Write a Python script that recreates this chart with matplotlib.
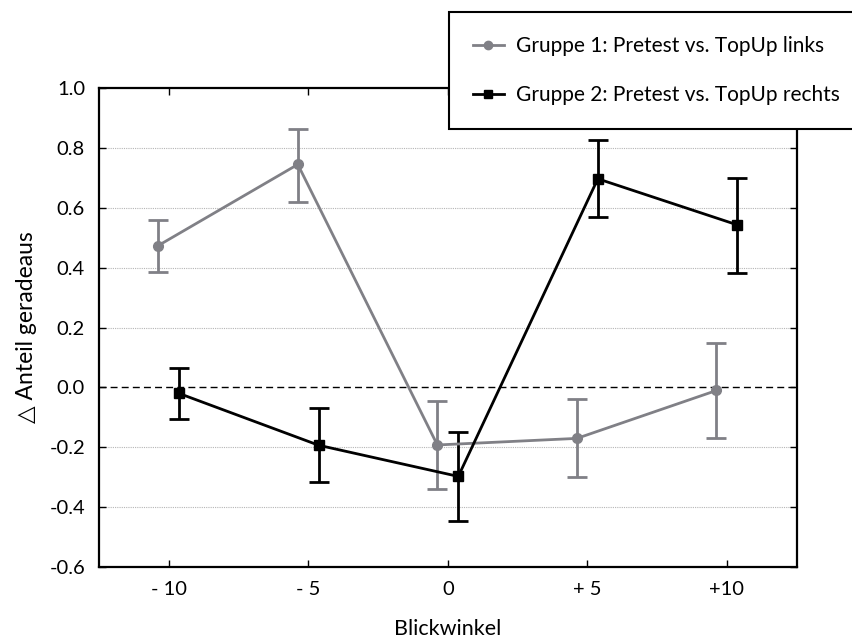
import numpy as np
import matplotlib
matplotlib.use("Agg")
import matplotlib.pyplot as plt
from matplotlib.lines import Line2D

plt.rcParams['font.family'] = ['Lato', 'DejaVu Sans']

# Viewing angle categories
categories = ["- 10", "- 5", "0", "+ 5", "+10"]

# Group 1: Pretest vs. TopUp links
g1_mean = [0.474, 0.745, -0.192, -0.170, -0.010]
g1_upper = [0.560, 0.865, -0.045, -0.040, 0.148]
g1_lower = [0.385, 0.620, -0.340, -0.300, -0.168]

# Group 2: Pretest vs. TopUp rechts
g2_mean = [-0.020, -0.193, -0.297, 0.697, 0.543]
g2_upper = [0.065, -0.070, -0.150, 0.825, 0.700]
g2_lower = [-0.105, -0.315, -0.445, 0.570, 0.383]

label1 = "Gruppe 1: Pretest vs. TopUp links"
label2 = "Gruppe 2: Pretest vs. TopUp rechts"

gray = "#808086"
x = np.arange(len(categories))
offset = 0.075

fig = plt.figure(figsize=(8.53, 6.43), dpi=100)
ax = fig.add_axes([0.116, 0.118, 0.818, 0.745])

# Horizontal reference lines
for yv in np.arange(-0.4, 1.0, 0.2):
    if abs(yv) < 1e-9:
        continue
    ax.axhline(yv, color="#b5b5b5", lw=0.8, ls=(0, (1, 1)), zorder=0)
ax.axhline(0, color="black", lw=1.0, ls=(0, (5, 3)), zorder=1)

def draw(xpos, mean, lo, hi, color, marker, ms, label):
    mean = np.asarray(mean)
    yerr = np.vstack([mean - np.asarray(lo), np.asarray(hi) - mean])
    ax.errorbar(xpos, mean, yerr=yerr, color=color, lw=2.0, marker=marker,
                ms=ms, mfc=color, mec=color, capsize=7, capthick=2.0,
                elinewidth=2.0, label=label, zorder=3)

draw(x - offset, g1_mean, g1_lower, g1_upper, gray, "o", 7, label1)
draw(x + offset, g2_mean, g2_lower, g2_upper, "black", "s", 7, label2)

yticks = np.round(np.arange(-0.6, 1.01, 0.2), 1)
ax.set_xlim(-0.5, 4.5)
ax.set_ylim(-0.6, 1.0)
ax.set_xticks(x)
ax.set_xticklabels(categories)
ax.set_yticks(yticks)
ax.set_yticklabels([f"{v:.1f}" for v in yticks])
ax.tick_params(direction="in", top=True, right=True, length=5, width=1.0,
               labelsize=14.5, pad=10)
for s in ax.spines.values():
    s.set_linewidth(1.6)

ax.set_xlabel("Blickwinkel", fontsize=15.5, labelpad=15)
ax.set_ylabel("△ Anteil geradeaus", fontsize=16.5, labelpad=9)

h1 = Line2D([], [], color=gray, lw=2.0, marker="o", ms=6)
h2 = Line2D([], [], color="black", lw=2.0, marker="s", ms=6)
leg = fig.legend([h1, h2], [label1, label2], loc="upper left",
                 bbox_to_anchor=(0.526, 0.981), fontsize=15, frameon=True,
                 fancybox=False, framealpha=1, edgecolor="black",
                 handlelength=1.5, borderpad=1.15, labelspacing=1.4,
                 handletextpad=0.6, borderaxespad=0)
leg.get_frame().set_linewidth(1.5)

fig.savefig("out.png", dpi=100)
